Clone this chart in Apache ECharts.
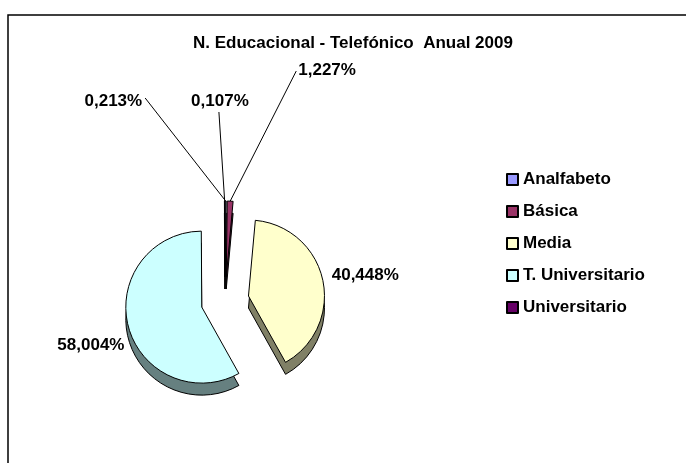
<!DOCTYPE html>
<html>
<head>
<meta charset="utf-8">
<title>N. Educacional - Telefónico Anual 2009</title>
<script src="https://cdn.jsdelivr.net/npm/echarts@6/dist/echarts.min.js"></script>
<style>
  html, body { margin: 0; padding: 0; background: #fff; }
  #main { width: 686px; height: 463px; }
</style>
</head>
<body>
<div id="main"></div>
<script type="text/javascript">
  // datos
  var categorias = ['Analfabeto', 'Básica', 'Media', 'T. Universitario', 'Universitario'];
  var porcentajes = [0.213, 1.227, 40.448, 58.004, 0.107];
  var coloresCara = ['#9999FF', '#993366', '#FFFFCC', '#CCFFFF', '#660066'];
  var coloresLado = ['#4d4d80', '#4d1a33', '#808066', '#668080', '#330033'];

  var fuente = '"Liberation Sans", Arial, sans-serif';
  var separacion = 24; // explosion de las porciones

  // posicion de las etiquetas pequeñas: [x, y, align, finLineaX, finLineaY]
  // (la porcion se desplaza hacia arriba con la explosion, se compensa abajo)
  var etiquetasChicas = {
    0: [142, 101, 'right', 145, 98],
    1: [297, 70, 'left', 295, 71],
    4: [220, 101, 'center', 219, 112]
  };

  function fmt(v) {
    return v.toFixed(3).replace('.', ',') + '%';
  }

  var myChart = echarts.init(document.getElementById('main'));

  var datosCara = categorias.map(function (c, i) {
    var item = {
      name: c,
      value: porcentajes[i],
      selected: true,
      itemStyle: { color: coloresCara[i] }
    };
    if (i === 2 || i === 3) {
      item.labelLine = { show: false, length: 4, length2: 2 };
    }
    return item;
  });
  var datosLado = categorias.map(function (c, i) {
    return { name: c, value: porcentajes[i], selected: true, itemStyle: { color: coloresLado[i] } };
  });

  var option = {
    animation: false,
    graphic: [{
      type: 'rect',
      shape: { x: 8, y: 15, width: 720, height: 500 },
      style: { fill: 'none', stroke: '#000', lineWidth: 1.5 },
      silent: true
    }],
    title: {
      text: 'N. Educacional - Telefónico  Anual 2009',
      left: 188,
      top: 30,
      textStyle: { fontFamily: fuente, fontSize: 17, fontWeight: 'bold', color: '#000' }
    },
    legend: {
      orient: 'vertical',
      left: 501,
      top: 166,
      itemWidth: 11,
      itemHeight: 11,
      itemGap: 15,
      icon: 'rect',
      selectedMode: false,
      data: categorias,
      textStyle: { fontFamily: fuente, fontSize: 17, fontWeight: 'bold', color: '#000' }
    },
    series: [
      {
        name: 'cara',
        type: 'pie',
        z: 3,
        center: [225, 301],
        radius: 76,
        startAngle: 90,
        clockwise: true,
        selectedMode: 'multiple',
        selectedOffset: separacion,
        avoidLabelOverlap: false,
        itemStyle: { borderColor: '#000', borderWidth: 1 },
        select: { itemStyle: { borderColor: '#000', borderWidth: 1 } },
        emphasis: { disabled: true },
        label: {
          show: true,
          position: 'outside',
          formatter: function (p) { return fmt(p.value); },
          fontFamily: fuente,
          fontSize: 17,
          fontWeight: 'bold',
          color: '#000'
        },
        labelLine: { show: true, length: 4, length2: 2, smooth: false, lineStyle: { color: '#000', width: 1 } },
        labelLayout: function (p) {
          if (p.seriesIndex !== 0) return {};
          var e = etiquetasChicas[p.dataIndex];
          var r = p.labelRect;
          if (e) {
            var cx;
            if (e[2] === 'right') cx = r.x + r.width;
            else if (e[2] === 'left') cx = r.x;
            else cx = r.x + r.width / 2;
            var res = { dx: e[0] - cx, dy: e[1] + separacion - (r.y + r.height / 2) };
            if (p.labelLinePoints) {
              var fin = [e[3], e[4] + separacion];
              res.labelLinePoints = [p.labelLinePoints[0], fin, fin];
            }
            return res;
          }
          if (p.dataIndex === 3) return { dx: 7, dy: 18 };
          if (p.dataIndex === 2) return { dx: -2, dy: -4 };
          return {};
        },
        data: datosCara
      },
      {
        name: 'lado',
        type: 'pie',
        z: 2,
        center: [225, 313],
        radius: 76,
        startAngle: 90,
        clockwise: true,
        selectedMode: 'multiple',
        selectedOffset: separacion,
        silent: true,
        itemStyle: { borderColor: '#000', borderWidth: 1 },
        select: { itemStyle: { borderColor: '#000', borderWidth: 1 } },
        emphasis: { disabled: true },
        label: { show: false },
        labelLine: { show: false },
        data: datosLado
      }
    ]
  };

  myChart.setOption(option);
</script>
</body>
</html>
